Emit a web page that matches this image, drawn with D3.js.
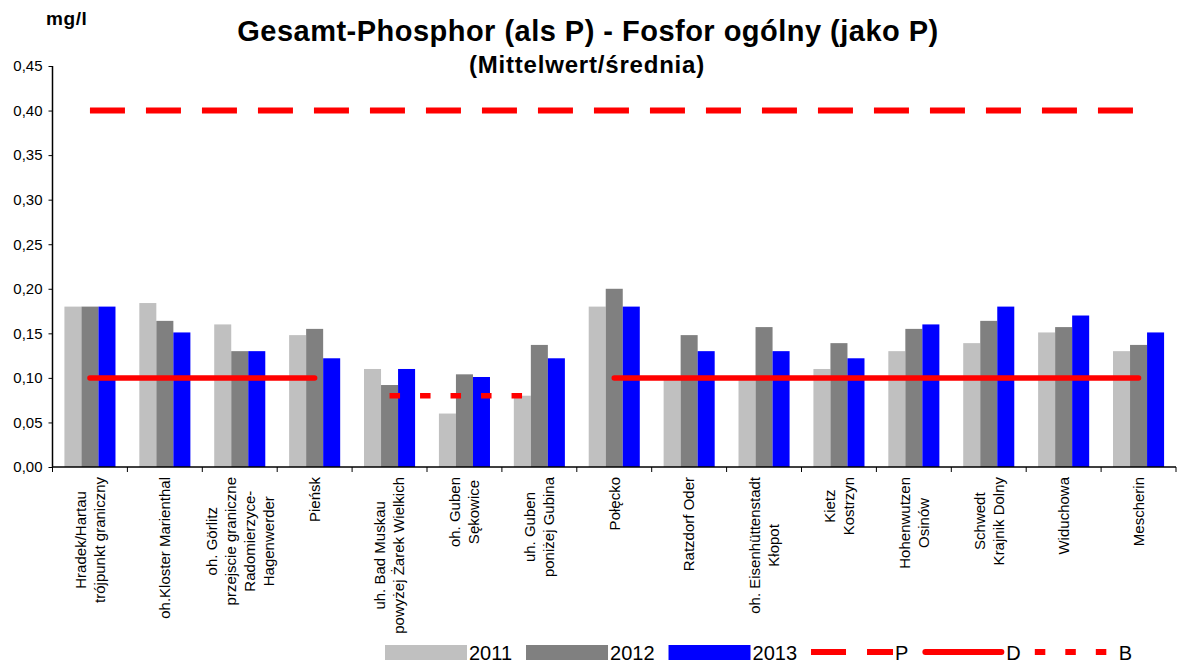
<!DOCTYPE html>
<html>
<head>
<meta charset="utf-8">
<script src="https://cdn.jsdelivr.net/npm/d3@7"></script>
<style>
  html, body { margin: 0; padding: 0; background: #fff; }
  svg { display: block; font-family: "Liberation Sans", Arial, sans-serif; }
</style>
</head>
<body>
<div id="chart"></div>
<script>
// Messstellen / stations (one entry per line of the label)
const categories = [
    ["Hradek/Hartau", "trójpunkt graniczny"],
    ["oh.Kloster Marienthal"],
    ["oh. Görlitz", "przejscie graniczne", "Radomierzyce-", "Hagenwerder"],
    ["Pieńsk"],
    ["uh. Bad Muskau", "powyżej Żarek Wielkich"],
    ["oh. Guben", "Sękowice"],
    ["uh. Guben", "poniżej Gubina"],
    ["Połęcko"],
    ["Ratzdorf Oder"],
    ["oh. Eisenhüttenstadt", "Kłopot"],
    ["Kietz", "Kostrzyn"],
    ["Hohenwutzen", "Osinów"],
    ["Schwedt", "Krajnik Dolny"],
    ["Widuchowa"],
    ["Mescherin"]
];

const series = ["2011", "2012", "2013"];
const values2011 = [0.18, 0.184, 0.16, 0.148, 0.11, 0.06, 0.08, 0.18, 0.10, 0.10, 0.11, 0.13, 0.139, 0.151, 0.13];
const values2012 = [0.18, 0.164, 0.13, 0.155, 0.092, 0.104, 0.137, 0.20, 0.148, 0.157, 0.139, 0.155, 0.164, 0.157, 0.137];
const values2013 = [0.18, 0.151, 0.13, 0.122, 0.11, 0.101, 0.122, 0.18, 0.13, 0.13, 0.122, 0.16, 0.18, 0.17, 0.151];

// Grenz-/Zielwerte
const limitP = [0.4, 0.4, 0.4, 0.4, 0.4, 0.4, 0.4, 0.4, 0.4, 0.4, 0.4, 0.4, 0.4, 0.4, 0.4];
const limitD = [0.1, 0.1, 0.1, 0.1, null, null, null, 0.1, 0.1, 0.1, 0.1, 0.1, 0.1, 0.1, 0.1];
const limitB = [null, null, null, null, 0.08, 0.08, 0.08, null, null, null, null, null, null, null, null];

const yTicks = [0, 0.05, 0.10, 0.15, 0.20, 0.25, 0.30, 0.35, 0.40, 0.45];

const width = 1177;
const height = 666;
const plot = { left: 52.5, right: 1176, top: 66, bottom: 467 };

const barColors = { "2011": "#c0c0c0", "2012": "#808080", "2013": "#0000ff" };
const red = "#ff0000";

const svg = d3.select("#chart").append("svg")
    .attr("width", width)
    .attr("height", height);

const ids = categories.map((c, i) => i);

const x = d3.scaleBand()
    .domain(ids)
    .range([plot.left, plot.right])
    .paddingInner(0)
    .paddingOuter(0);

const xs = d3.scaleBand()
    .domain(series)
    .range([0, x.bandwidth()])
    .paddingInner(0)
    .paddingOuter(0.7);

const y = d3.scaleLinear()
    .domain([0, 0.45])
    .range([plot.bottom, plot.top]);

const locale = d3.formatLocale({ decimal: ",", thousands: ".", grouping: [3], currency: ["", " €"] });
const fmt = locale.format(".2f");

// Balken
const table = ids.map(i => ({ i: i, "2011": values2011[i], "2012": values2012[i], "2013": values2013[i] }));

const groups = svg.append("g")
    .selectAll("g")
    .data(table)
    .enter().append("g")
    .attr("transform", d => `translate(${x(d.i)},0)`);

groups.selectAll("rect")
    .data(d => series.map(s => ({ s: s, v: d[s] })))
    .enter().append("rect")
    .attr("x", d => xs(d.s))
    .attr("y", d => y(d.v))
    .attr("width", xs.bandwidth())
    .attr("height", d => y(0) - y(d.v))
    .attr("fill", d => barColors[d.s]);

// Linien
const cx = i => x(i) + x.bandwidth() / 2;

function limitLine(vals) {
    return d3.line()
        .defined(i => vals[i] !== null)
        .x(i => cx(i))
        .y(i => y(vals[i]))(ids);
}

svg.append("path")
    .attr("d", limitLine(limitP))
    .attr("fill", "none")
    .attr("stroke", red)
    .attr("stroke-width", 6)
    .attr("stroke-dasharray", "35,21");

svg.append("path")
    .attr("d", limitLine(limitD))
    .attr("fill", "none")
    .attr("stroke", red)
    .attr("stroke-width", 5.5)
    .attr("stroke-linecap", "round");

svg.append("path")
    .attr("d", limitLine(limitB))
    .attr("fill", "none")
    .attr("stroke", red)
    .attr("stroke-width", 5.5)
    .attr("stroke-dasharray", "10.5,20");

// Y-Achse
const yAxis = svg.append("g")
    .attr("transform", `translate(${plot.left},0)`)
    .call(d3.axisLeft(y).tickValues(yTicks).tickFormat(fmt).tickSize(4).tickPadding(6));
yAxis.select(".domain").attr("stroke", "#000").attr("stroke-width", 1.5).attr("d", `M0,${plot.top}V${plot.bottom}`);
yAxis.selectAll(".tick line").attr("stroke", "#000");
yAxis.selectAll(".tick text")
    .attr("font-size", 15)
    .attr("fill", "#000")
    .attr("font-family", "Liberation Sans, Arial, sans-serif");

// X-Achse
svg.append("line")
    .attr("x1", plot.left).attr("x2", plot.right)
    .attr("y1", y(0)).attr("y2", y(0))
    .attr("stroke", "#000").attr("stroke-width", 1.5);

const bounds = ids.map(i => x(i)).concat([plot.right]);
svg.append("g")
    .selectAll("line")
    .data(bounds)
    .enter().append("line")
    .attr("x1", d => d).attr("x2", d => d)
    .attr("y1", y(0)).attr("y2", y(0) + 5)
    .attr("stroke", "#000");

// Beschriftung der Messstellen
svg.append("clipPath").attr("id", "labelClip")
    .append("rect").attr("x", 0).attr("y", 0).attr("width", width).attr("height", 637);

const labelTop = 477;
const lineGap = 19;
const labelLayer = svg.append("g").attr("clip-path", "url(#labelClip)");

categories.forEach((lines, i) => {
    const g = labelLayer.append("g");
    const texts = lines.map((t, k) => g.append("text")
        .attr("font-size", 15)
        .attr("fill", "#000")
        .attr("text-anchor", "middle")
        .attr("dy", "0.35em")
        .text(t));
    const maxLen = d3.max(texts, t => t.node().getComputedTextLength());
    const mid = labelTop + maxLen / 2;
    texts.forEach((t, k) => {
        const lx = cx(i) + (k - (lines.length - 1) / 2) * lineGap;
        t.attr("transform", `translate(${lx},${mid}) rotate(-90)`);
    });
});

// Titel
svg.append("text")
    .attr("x", 46).attr("y", 25)
    .attr("font-size", 19).attr("font-weight", "bold")
    .attr("letter-spacing", 0.6)
    .text("mg/l");

svg.append("text")
    .attr("x", 588).attr("y", 41)
    .attr("text-anchor", "middle")
    .attr("font-size", 29).attr("font-weight", "bold")
    .attr("letter-spacing", 0.48)
    .text("Gesamt-Phosphor (als P) - Fosfor ogólny (jako P)");

svg.append("text")
    .attr("x", 587).attr("y", 73)
    .attr("text-anchor", "middle")
    .attr("font-size", 24).attr("font-weight", "bold")
    .attr("letter-spacing", 0.8)
    .text("(Mittelwert/średnia)");

// Legende
const legendItems = [
    { name: "2011", type: "bar", color: barColors["2011"] },
    { name: "2012", type: "bar", color: barColors["2012"] },
    { name: "2013", type: "bar", color: barColors["2013"] },
    { name: "P", type: "line", dash: "35,21", cap: "butt" },
    { name: "D", type: "line", dash: null, cap: "round" },
    { name: "B", type: "line", dash: "10.5,20", cap: "butt" }
];

const legend = svg.append("g");
let lx = 385;
const symW = 82;
const legY = 652;
legendItems.forEach(item => {
    if (item.type === "bar") {
        legend.append("rect")
            .attr("x", lx).attr("y", legY - 7)
            .attr("width", symW).attr("height", 15)
            .attr("fill", item.color);
    } else {
        const x0 = item.cap === "round" ? lx + 3 : lx;
        const x1 = item.cap === "round" ? lx + symW - 3 : lx + symW;
        legend.append("line")
            .attr("x1", x0).attr("x2", x1)
            .attr("y1", legY).attr("y2", legY)
            .attr("stroke", red)
            .attr("stroke-width", 6)
            .attr("stroke-linecap", item.cap)
            .attr("stroke-dasharray", item.dash);
    }
    const t = legend.append("text")
        .attr("x", lx + symW + 2)
        .attr("y", legY + 8)
        .attr("font-size", 20)
        .text(item.name);
    lx += symW + 2 + t.node().getComputedTextLength() + 14;
});
</script>
</body>
</html>
